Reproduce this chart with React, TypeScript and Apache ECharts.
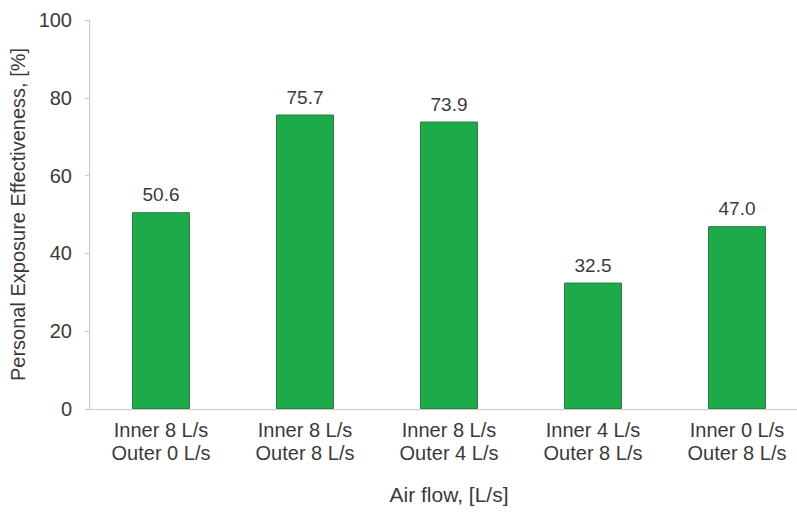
import React, { useEffect, useRef } from "react";
import * as echarts from "echarts";

const categories = [
  "Inner 8 L/s\nOuter 0 L/s",
  "Inner 8 L/s\nOuter 8 L/s",
  "Inner 8 L/s\nOuter 4 L/s",
  "Inner 4 L/s\nOuter 8 L/s",
  "Inner 0 L/s\nOuter 8 L/s",
];
const values = [50.6, 75.7, 73.9, 32.5, 47.0];
const yTitle = "Personal Exposure Effectiveness, [%]";
const xTitle = "Air flow, [L/s]";

export default function App() {
  const ref = useRef<HTMLDivElement>(null);
  useEffect(() => {
    document.body.style.margin = "0";
    const chart = echarts.init(ref.current!, null, { renderer: "svg" });
    const font = "'Liberation Sans', Arial, sans-serif";
    chart.setOption({
      animation: false,
      backgroundColor: "#ffffff",
      grid: {
        left: 89,
        top: 20,
        width: 720,
        height: 389,
        containLabel: false,
        outerBoundsMode: "none",
      },
      xAxis: {
        type: "category",
        data: categories,
        axisLine: { show: true, lineStyle: { color: "#c8c8c8", width: 1 } },
        axisTick: { show: false },
        axisLabel: {
          color: "#3a3a3a",
          fontFamily: font,
          fontSize: 20,
          lineHeight: 23,
          margin: 9,
        },
        name: xTitle,
        nameLocation: "middle",
        nameGap: 75,
        nameTextStyle: { color: "#3a3a3a", fontFamily: font, fontSize: 21 },
      },
      yAxis: {
        type: "value",
        min: 0,
        max: 100,
        interval: 20,
        splitLine: { show: false },
        axisLine: { show: true, lineStyle: { color: "#c8c8c8", width: 1 } },
        axisTick: { show: true, length: 4, lineStyle: { color: "#c8c8c8" } },
        axisLabel: {
          color: "#3a3a3a",
          fontFamily: font,
          fontSize: 20,
          margin: 17,
        },
        name: yTitle,
        nameLocation: "middle",
        nameGap: 59,
        nameTextStyle: { color: "#3a3a3a", fontFamily: font, fontSize: 20 },
      },
      series: [
        {
          type: "bar",
          data: values,
          barWidth: 58,
          itemStyle: { color: "#1daa4b", borderColor: "#2f7d40", borderWidth: 1 },
          label: {
            show: true,
            position: "top",
            distance: 8,
            color: "#3a3a3a",
            fontFamily: font,
            fontSize: 19,
            formatter: (p: any) => Number(p.value).toFixed(1),
          },
        },
      ],
    });
    return () => chart.dispose();
  }, []);
  return <div ref={ref} style={{ width: 797, height: 515 }} />;
}
